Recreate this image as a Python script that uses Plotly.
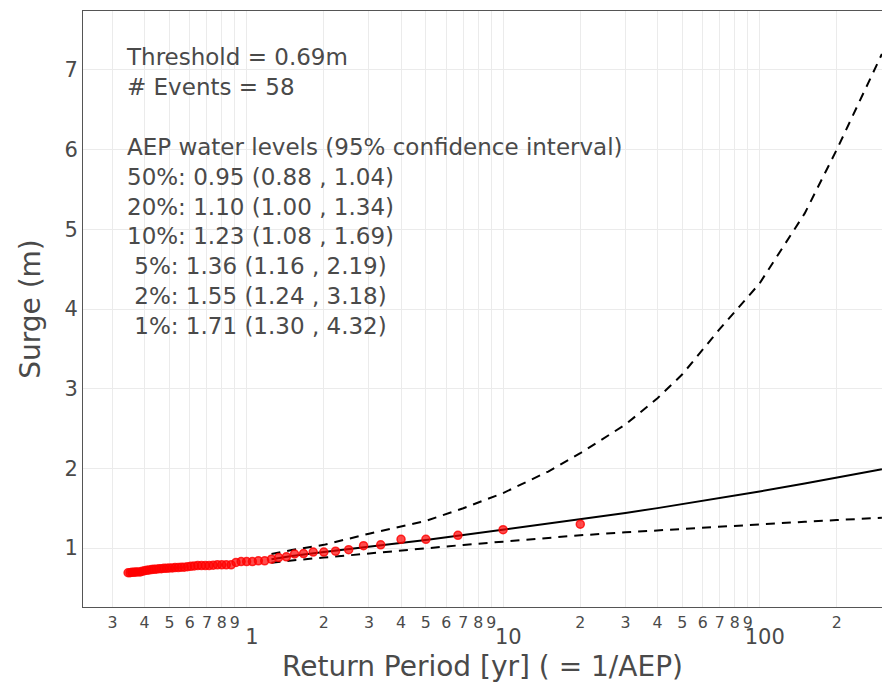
import plotly.graph_objects as go

# Peaks-over-threshold summary
threshold_m = 0.69
n_events = 58

# Ranked storm surge events: return period (yr) and surge (m)
event_return_period = [
    20.0, 10.0, 6.667, 5.0, 4.0, 3.333, 2.857, 2.5, 2.222, 2.0,
    1.818, 1.667, 1.538, 1.429, 1.333, 1.25, 1.176, 1.111, 1.053, 1.0,
    0.952, 0.909, 0.870, 0.833, 0.8, 0.769, 0.741, 0.714, 0.690, 0.667,
    0.645, 0.625, 0.606, 0.588, 0.571, 0.556, 0.541, 0.526, 0.513, 0.5,
    0.488, 0.476, 0.465, 0.455, 0.444, 0.435, 0.426, 0.417, 0.408, 0.4,
    0.392, 0.385, 0.377, 0.370, 0.364, 0.357, 0.351, 0.345,
]
event_surge = [
    1.30, 1.23, 1.16, 1.11, 1.11, 1.04, 1.03, 0.98, 0.96, 0.95,
    0.95, 0.93, 0.925, 0.89, 0.88, 0.86, 0.84, 0.84, 0.83, 0.83,
    0.83, 0.82, 0.79, 0.79, 0.79, 0.79, 0.785, 0.78, 0.78, 0.78,
    0.78, 0.775, 0.77, 0.765, 0.76, 0.76, 0.755, 0.755, 0.75, 0.75,
    0.745, 0.745, 0.74, 0.74, 0.735, 0.735, 0.73, 0.725, 0.72, 0.715,
    0.71, 0.70, 0.70, 0.70, 0.695, 0.695, 0.69, 0.69,
]

# Fitted return level curve with 95% confidence bounds
curve_return_period = [1.25, 1.5, 2, 3, 5, 7, 10, 15, 20, 30, 40, 50, 70, 100, 150, 200, 300]
fit_surge = [0.86, 0.90, 0.95, 1.015, 1.10, 1.163, 1.23, 1.309, 1.36, 1.441, 1.501, 1.55,
             1.626, 1.71, 1.81, 1.885, 1.99]
ci_lower = [0.816, 0.845, 0.88, 0.933, 1.00, 1.039, 1.08, 1.127, 1.16, 1.197, 1.222, 1.24,
            1.269, 1.30, 1.33, 1.351, 1.38]
ci_upper = [0.925, 0.975, 1.04, 1.18, 1.34, 1.50, 1.69, 1.96, 2.19, 2.55, 2.88, 3.18,
            3.75, 4.32, 5.2, 6.0, 7.2]

aep_percent = [50, 20, 10, 5, 2, 1]

FONT = "DejaVu Sans"
TEXT_COLOR = "#4a4a4a"
GRID = "#ebebeb"

fig = go.Figure()

for bound in (ci_upper, ci_lower):
    fig.add_trace(go.Scatter(
        x=curve_return_period, y=bound, mode="lines",
        line=dict(color="black", width=2, dash="9px,7px"),
        hoverinfo="skip", showlegend=False,
    ))

fig.add_trace(go.Scatter(
    x=curve_return_period, y=fit_surge, mode="lines",
    line=dict(color="black", width=2),
    showlegend=False,
))

fig.add_trace(go.Scatter(
    x=event_return_period, y=event_surge, mode="markers",
    marker=dict(size=8, color="rgba(255,0,0,0.7)",
                line=dict(color="rgba(255,0,0,0.8)", width=1.5)),
    showlegend=False,
))

# Summary text block, built from the fitted curve values
lines = [f"Threshold = {threshold_m:.2f}m", f"# Events = {n_events}", "",
         "AEP water levels (95% confidence interval)"]
for p in aep_percent:
    i = curve_return_period.index(100 / p)
    label = f"{p:>2}%: {fit_surge[i]:.2f} ({ci_lower[i]:.2f} , {ci_upper[i]:.2f})"
    lines.append(label.replace(" ", "\u00a0"))

fig.add_annotation(
    text="<br>".join(lines), xref="paper", yref="paper",
    x=0.051, y=0.948, xanchor="left", yanchor="top", align="left",
    showarrow=False, font=dict(family=FONT, size=23, color=TEXT_COLOR),
)

fig.update_xaxes(
    type="log", range=[-0.638, 2.4775], dtick="D1",
    showgrid=True, gridcolor=GRID, gridwidth=1,
    showline=True, linecolor="#555", linewidth=1, mirror=True,
    ticks="", tickfont=dict(family=FONT, size=21, color=TEXT_COLOR),
    title=dict(text="Return Period [yr] ( = 1/AEP)", standoff=8,
               font=dict(family=FONT, size=28, color=TEXT_COLOR)),
)
fig.update_yaxes(
    range=[0.26, 7.74], dtick=1, zeroline=False,
    showgrid=True, gridcolor=GRID, gridwidth=1,
    showline=True, linecolor="#555", linewidth=1, mirror=False,
    ticks="", tickfont=dict(family=FONT, size=21, color=TEXT_COLOR),
    title=dict(text="Surge (m)", font=dict(family=FONT, size=28, color=TEXT_COLOR)),
)

fig.update_layout(
    width=882, height=684,
    margin=dict(l=83, r=0, t=11, b=77),
    plot_bgcolor="white", paper_bgcolor="white",
    font=dict(family=FONT, color=TEXT_COLOR),
    showlegend=False,
)

fig.write_html("out.html")
